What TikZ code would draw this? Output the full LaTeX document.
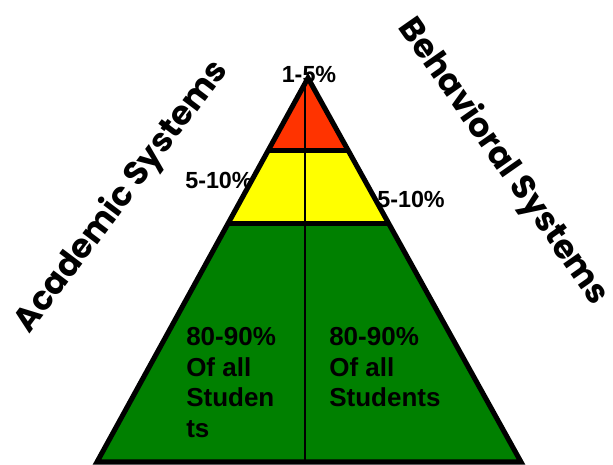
\documentclass[tikz,border=0pt]{standalone}
\usepackage{fontspec}
\setmainfont{Liberation Sans}
\newfontfamily\handfont{Poppins}
\usetikzlibrary{calc}
\definecolor{tipred}{HTML}{FF3300}
\definecolor{midyellow}{HTML}{FFFF00}
\definecolor{basegreen}{HTML}{008000}
\tikzset{
  outline/.style={draw=black, line width=3.8pt, line join=miter},
  divider/.style={draw=black, line width=1.4pt},
  pct/.style={font=\bfseries\fontsize{17.5}{21}\selectfont, inner sep=0pt},
  share/.style={font=\bfseries\fontsize{19.5}{23}\selectfont, align=left,
                anchor=north west, inner sep=0pt},
  system/.style={font=\handfont\bfseries\fontsize{25}{30}\selectfont, inner sep=0pt}
}

\begin{document}
\begin{tikzpicture}[x=0.75pt, y=-0.75pt]
  \useasboundingbox (0,0) rectangle (613,464);

  \coordinate (apex) at (308,78);
  \coordinate (bl) at (97,462);
  \coordinate (br) at (521,462);
  \coordinate (ryl) at ($(apex)!0.188!(bl)$);
  \coordinate (ryr) at ($(apex)!0.188!(br)$);
  \coordinate (ygl) at ($(apex)!0.378!(bl)$);
  \coordinate (ygr) at ($(apex)!0.378!(br)$);
  \coordinate (top) at (305,80);
  \coordinate (bot) at (305,462);

  \node[system, rotate=53] (academic) at (122,197) {Academic Systems};
  \node[system, rotate=-55] (behavioral) at (503,162) {Behavioral Systems};

  \node[pct] (tip) at (309,74) {1-5\%};
  \node[pct] (midl) at (219,180) {5-10\%};
  \node[pct] (midr) at (411,199) {5-10\%};

  \fill[tipred] (apex) -- (ryl) -- (ryr) -- cycle;
  \fill[midyellow] (ryl) -- (ygl) -- (ygr) -- (ryr) -- cycle;
  \fill[basegreen] (ygl) -- (bl) -- (br) -- (ygr) -- cycle;

  \draw[divider] (top) -- (bot);
  \draw[outline] (ryl) -- (ryr);
  \draw[outline] (ygl) -- (ygr);
  \draw[outline] (apex) -- (bl) -- (br) -- cycle;

  \node[share] (acadshare) at (186,327) {80-90\%\\Of all\\Studen\\ts};
  \node[share] (behshare) at (329,327) {80-90\%\\Of all\\Students};
\end{tikzpicture}
\end{document}
